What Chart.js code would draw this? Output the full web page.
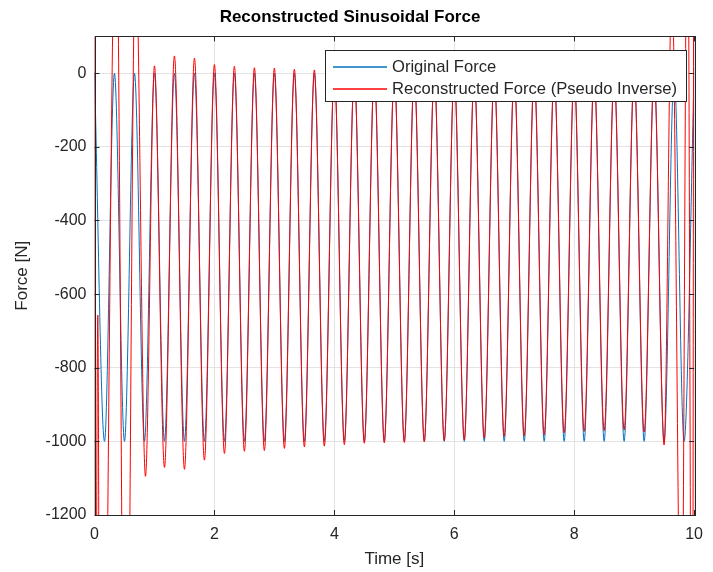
<!DOCTYPE html>
<html>
<head>
<meta charset="utf-8">
<script src="https://cdn.jsdelivr.net/npm/chart.js@4.4.0/dist/chart.umd.min.js"></script>
<style>
  html, body { margin: 0; padding: 0; background: #fff; }
  #wrap { width: 713px; height: 572px; }
</style>
</head>
<body>
<div id="wrap"><canvas id="force-chart" width="713" height="572"></canvas></div>
<script>
// time axis ticks
const timeTicks = [0, 2, 4, 6, 8, 10];
const forceTicks = [0, -200, -400, -600, -800, -1000, -1200];

// original force: peaks and troughs (3 Hz, 0 .. -1000)
const origTime = [0, 0.167, 0.333, 0.5, 0.667, 0.833, 1, 1.167, 1.333, 1.5, 1.667, 1.833,
  2, 2.167, 2.333, 2.5, 2.667, 2.833, 3, 3.167, 3.333, 3.5, 3.667, 3.833,
  4, 4.167, 4.333, 4.5, 4.667, 4.833, 5, 5.167, 5.333, 5.5, 5.667, 5.833,
  6, 6.167, 6.333, 6.5, 6.667, 6.833, 7, 7.167, 7.333, 7.5, 7.667, 7.833,
  8, 8.167, 8.333, 8.5, 8.667, 8.833, 9, 9.167, 9.333, 9.5, 9.667, 9.833, 10];
const origForce = [0, -1000, 0, -1000, 0, -1000, 0, -1000, 0, -1000, 0, -1000,
  0, -1000, 0, -1000, 0, -1000, 0, -1000, 0, -1000, 0, -1000,
  0, -1000, 0, -1000, 0, -1000, 0, -1000, 0, -1000, 0, -1000,
  0, -1000, 0, -1000, 0, -1000, 0, -1000, 0, -1000, 0, -1000,
  0, -1000, 0, -1000, 0, -1000, 0, -1000, 0, -1000, 0, -1000, 0];

// reconstructed force (pseudo inverse): extremes
const recTime = [0, 0.015, 0.055, 0.1, 0.36, 0.52, 0.685, 0.85, 1, 1.167, 1.333, 1.5, 1.667, 1.833,
  2, 2.167, 2.333, 2.5, 2.667, 2.833, 3, 3.167, 3.333, 3.5, 3.667, 3.833,
  4, 4.167, 4.333, 4.5, 4.667, 4.833, 5, 5.167, 5.333, 5.5, 5.667, 5.833,
  6, 6.167, 6.333, 6.5, 6.667, 6.833, 7, 7.167, 7.333, 7.5, 7.667, 7.833,
  8, 8.167, 8.333, 8.5, 8.667, 8.833, 9, 9.167, 9.333, 9.5, 9.63, 9.79, 9.89, 9.97, 10];
const recForce = [1800, -1900, -657, -2600, 500, -2200, 350, -1095, 20, -1071, 47, -1076, 41, -1051,
  24, -1033, 19, -1027, 15, -1025, 14, -1019, 11, -1015, 9, -1013,
  7, -1009, 6, -1005, 5, -1004, 4, -1003, 3, -1001, 2, -998,
  1, -996, 0, -991, 0, -987, -1, -985, -1, -982, -2, -977,
  -3, -973, -3, -971, -4, -969, -4, -975, -3, -1010, 250, -1700, 600, -2200, 1500];

const labelOrig = 'Original Force';
const labelRec = 'Reconstructed Force (Pseudo Inverse)';

const blue = '#0072BD';
const red = '#FF0000';
const axisColor = '#262626';
const fontFam = '"Liberation Sans", Arial, sans-serif';

function toPoints(xs, ys) {
  let pts = [];
  for (let i = 0; i < xs.length; i += 1) {
    pts.push({ x: xs[i], y: ys[i] });
  }
  return pts;
}

// box, inward ticks and legend like a MATLAB figure
const matlabBox = {
  id: 'matlabBox',
  afterDraw(chart) {
    const ctx = chart.ctx;
    const a = chart.chartArea;
    const xs = chart.scales.x;
    const ys = chart.scales.y;
    ctx.save();
    ctx.strokeStyle = axisColor;
    ctx.lineWidth = 1;
    ctx.strokeRect(Math.round(a.left) + 0.5, Math.round(a.top) + 0.5,
      Math.round(a.right - a.left), Math.round(a.bottom - a.top));
    ctx.beginPath();
    timeTicks.forEach(t => {
      const px = Math.round(xs.getPixelForValue(t)) + 0.5;
      ctx.moveTo(px, a.bottom); ctx.lineTo(px, a.bottom - 5);
      ctx.moveTo(px, a.top); ctx.lineTo(px, a.top + 5);
    });
    forceTicks.forEach(v => {
      const py = Math.round(ys.getPixelForValue(v)) + 0.5;
      ctx.moveTo(a.left, py); ctx.lineTo(a.left + 5, py);
      ctx.moveTo(a.right, py); ctx.lineTo(a.right - 5, py);
    });
    ctx.stroke();

    // legend
    const lx = 325.5, ly = 50.5, lw = 361, lh = 51;
    ctx.fillStyle = '#fff';
    ctx.fillRect(lx, ly, lw, lh);
    ctx.strokeStyle = axisColor;
    ctx.strokeRect(lx, ly, lw, lh);
    const rows = [
      { text: labelOrig, color: blue, y: 67 },
      { text: labelRec, color: red, y: 89 }
    ];
    ctx.font = '16.6px ' + fontFam;
    ctx.textBaseline = 'middle';
    ctx.textAlign = 'left';
    rows.forEach(r => {
      ctx.beginPath();
      ctx.strokeStyle = r.color;
      ctx.lineWidth = 1.3;
      ctx.moveTo(333, r.y);
      ctx.lineTo(387, r.y);
      ctx.stroke();
      ctx.fillStyle = axisColor;
      ctx.fillText(r.text, 392, r.y);
    });
    ctx.restore();
  }
};

window.addEventListener('load', () => {
  new Chart(document.getElementById('force-chart'), {
    type: 'line',
    data: {
      datasets: [
        {
          label: labelRec,
          data: toPoints(recTime, recForce),
          borderColor: red,
          borderWidth: 1,
          pointRadius: 0,
          cubicInterpolationMode: 'monotone',
          fill: false,
          order: 0
        },
        {
          label: labelOrig,
          data: toPoints(origTime, origForce),
          borderColor: blue,
          borderWidth: 1,
          pointRadius: 0,
          cubicInterpolationMode: 'monotone',
          fill: false,
          order: 1
        }
      ]
    },
    options: {
      responsive: false,
      animation: false,
      layout: { padding: { left: 0, right: 13, top: 0, bottom: 0 } },
      plugins: {
        legend: { display: false },
        tooltip: { enabled: false },
        title: {
          display: true,
          text: 'Reconstructed Sinusoidal Force',
          color: '#000',
          font: { family: fontFam, size: 17, weight: 'bold' },
          padding: { top: 7, bottom: 9 }
        }
      },
      scales: {
        x: {
          type: 'linear',
          min: 0,
          max: 10,
          afterBuildTicks: s => { s.ticks = timeTicks.map(v => ({ value: v })); },
          afterFit: s => { s.height = 57; },
          grid: { color: '#e3e3e3', drawTicks: false },
          border: { display: false },
          ticks: {
            color: axisColor, padding: 10, maxRotation: 0,
            font: { family: fontFam, size: 16 },
            callback: v => String(v)
          },
          title: {
            display: true,
            text: 'Time [s]',
            color: axisColor,
            font: { family: fontFam, size: 17 },
            padding: { top: 0, bottom: 2 }
          }
        },
        y: {
          min: -1200,
          max: 100,
          afterBuildTicks: s => { s.ticks = forceTicks.map(v => ({ value: v })); },
          afterFit: s => { s.width = 94.5; },
          grid: { color: '#e3e3e3', drawTicks: false },
          border: { display: false },
          ticks: {
            color: axisColor, padding: 8,
            font: { family: fontFam, size: 16 },
            callback: v => String(v)
          },
          title: {
            display: true,
            text: 'Force [N]',
            color: axisColor,
            font: { family: fontFam, size: 17 },
            padding: { top: 12, bottom: 0 }
          }
        }
      }
    },
    plugins: [matlabBox]
  });
});
</script>
</body>
</html>
